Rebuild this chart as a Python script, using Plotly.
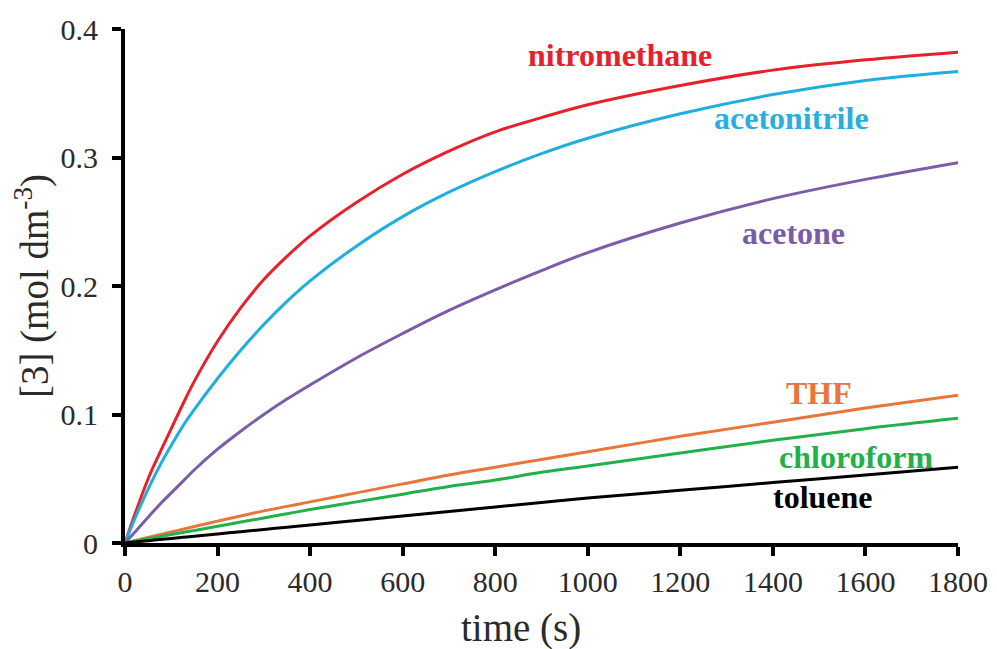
import plotly.graph_objects as go

time_s = [0, 25, 50, 75, 100, 125, 150, 200, 250, 300, 350, 400, 500, 600, 700, 800, 900, 1000, 1200, 1400, 1600, 1800]

nitromethane = [0, 0.026, 0.050, 0.070, 0.089, 0.108, 0.126, 0.157, 0.183, 0.205, 0.223, 0.239, 0.265, 0.287, 0.305, 0.320, 0.331, 0.341, 0.356, 0.368, 0.376, 0.382]
acetonitrile = [0, 0.022, 0.042, 0.060, 0.076, 0.091, 0.104, 0.128, 0.150, 0.170, 0.188, 0.204, 0.231, 0.254, 0.273, 0.289, 0.303, 0.315, 0.334, 0.349, 0.360, 0.367]
acetone = [0, 0.010, 0.020, 0.030, 0.039, 0.048, 0.057, 0.073, 0.087, 0.100, 0.112, 0.123, 0.144, 0.163, 0.181, 0.197, 0.212, 0.226, 0.249, 0.268, 0.283, 0.296]
thf = [0, 0.0022, 0.0043, 0.0065, 0.0086, 0.0107, 0.0128, 0.017, 0.021, 0.025, 0.0285, 0.032, 0.039, 0.046, 0.053, 0.059, 0.065, 0.071, 0.083, 0.094, 0.105, 0.115]
chloroform = [0, 0.0017, 0.0033, 0.005, 0.0066, 0.0082, 0.0098, 0.013, 0.0163, 0.0195, 0.0228, 0.026, 0.032, 0.038, 0.044, 0.049, 0.055, 0.060, 0.070, 0.080, 0.089, 0.097]
toluene = [0, 0.0009, 0.0018, 0.0027, 0.0035, 0.0044, 0.0053, 0.007, 0.0088, 0.0105, 0.0123, 0.014, 0.0175, 0.021, 0.0245, 0.028, 0.0315, 0.035, 0.041, 0.047, 0.053, 0.059]

series_names = ["nitromethane", "acetonitrile", "acetone", "THF", "chloroform", "toluene"]
series_values = [nitromethane, acetonitrile, acetone, thf, chloroform, toluene]
series_colors = ["#e8202a", "#1eaee0", "#7a5ca8", "#e8753a", "#22b04b", "#000000"]

# label anchor positions (data coords)
label_x = [1070, 1440, 1445, 1500, 1580, 1508]
label_y = [0.380, 0.331, 0.241, 0.117, 0.067, 0.036]
label_colors = ["#e8202a", "#2aaee0", "#7a5ca8", "#e8753a", "#22b04b", "#000000"]

x_ticks = [0, 200, 400, 600, 800, 1000, 1200, 1400, 1600, 1800]
y_ticks = [0, 0.1, 0.2, 0.3, 0.4]
y_tick_text = ["0", "0.1", "0.2", "0.3", "0.4"]

fig = go.Figure()
for name, vals, col in zip(series_names, series_values, series_colors):
    fig.add_trace(go.Scatter(x=time_s, y=vals, mode="lines", name=name,
                             line=dict(color=col, width=3, shape="spline", smoothing=1.0)))

for name, lx, ly, col in zip(series_names, label_x, label_y, label_colors):
    fig.add_annotation(x=lx, y=ly, text="<b>" + name + "</b>", showarrow=False,
                       font=dict(family="Liberation Serif", size=32, color=col),
                       xanchor="center", yanchor="middle")

tickfont = dict(family="Liberation Serif", size=30, color="#2a2a2a")
titlefont = dict(family="Liberation Serif", size=39, color="#2a2a2a")

# x-axis title placed as paper annotation (it sits a little left of centre in the reference)
fig.add_annotation(x=0.4755, y=-0.165, xref="paper", yref="paper", text="time (s)",
                   showarrow=False, font=titlefont, xanchor="center", yanchor="middle")

fig.update_layout(
    width=997, height=649,
    margin=dict(l=117, r=47, t=21, b=114, autoexpand=False),
    paper_bgcolor="white", plot_bgcolor="white",
    showlegend=False,
    font=tickfont,
    xaxis=dict(range=[0, 1800], tickvals=x_ticks, ticks="outside", ticklen=9, tickwidth=4,
               tickcolor="black", showline=True, linecolor="black", linewidth=4,
               showgrid=False, zeroline=False, tickfont=tickfont, automargin=False),
    yaxis=dict(range=[0, 0.4], tickvals=y_ticks, ticktext=y_tick_text, ticks="outside", ticklen=9, tickwidth=4,
               tickcolor="black", showline=True, linecolor="black", linewidth=4,
               showgrid=False, zeroline=False, tickfont=tickfont, ticklabelstandoff=8, automargin=False,
               title=dict(text="[3] (mol dm<sup>-3</sup>)", font=titlefont, standoff=8)),
)

fig.write_html("out.html")
